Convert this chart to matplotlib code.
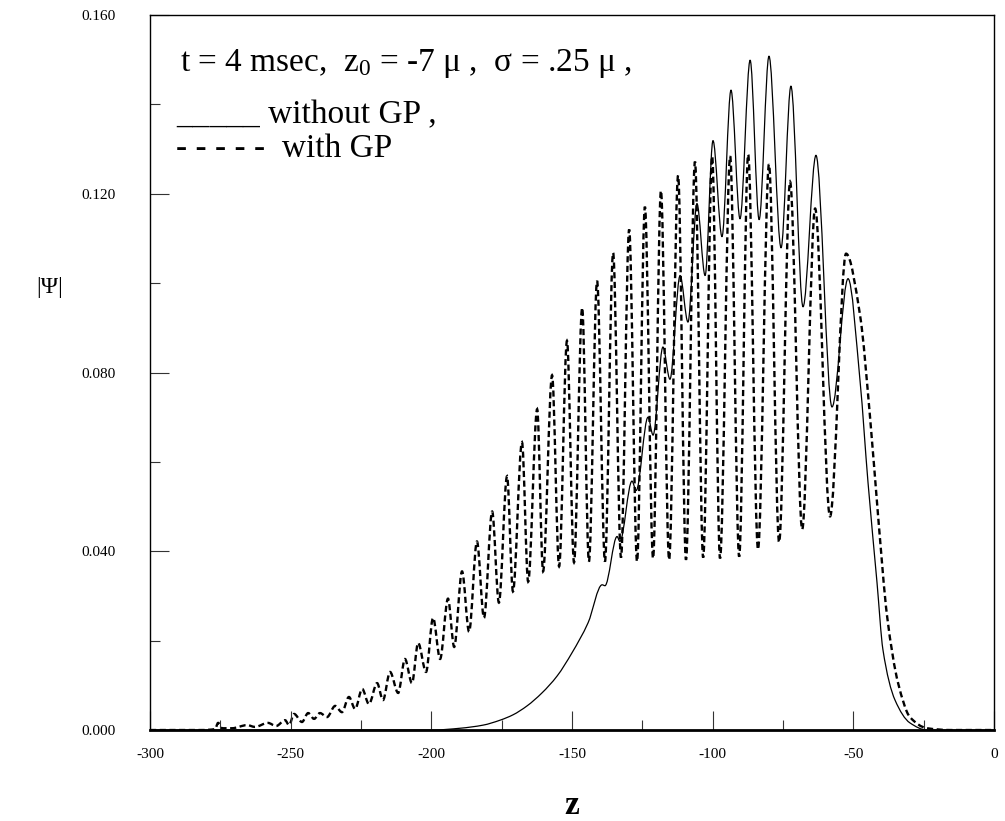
import numpy as np
import matplotlib
matplotlib.use("Agg")
import matplotlib.pyplot as plt
from matplotlib.path import Path
from matplotlib.patches import PathPatch
from matplotlib.ticker import MultipleLocator, FuncFormatter

plt.rcParams['font.family'] = ['Liberation Serif', 'DejaVu Serif']
plt.rcParams['mathtext.fontset'] = 'custom'
plt.rcParams['mathtext.rm'] = 'Liberation Serif'
plt.rcParams['mathtext.default'] = 'regular'
plt.rcParams['axes.unicode_minus'] = False

# key points (peaks, troughs, shoulders)
# dashed curve: with GP
z_gp = [-300, -282.2, -276.9, -275.8, -274.4, -270.9, -265.5, -262.7, -258.1, -255.2,
        -252.0, -250.6, -248.8, -246.0, -243.8, -241.7, -239.6, -237.1, -234.2, -231.8,
        -229.3, -227.1, -224.6, -222.2, -219.3, -217.2, -214.7, -211.8, -209.4, -206.9,
        -204.7, -201.9, -199.4, -196.9, -194.1, -191.9, -189.1, -186.6, -183.8, -181.3,
        -178.4, -176.0, -173.1, -171.0, -167.8, -165.6, -162.4, -160.3, -157.1, -154.6,
        -151.8, -149.3, -146.4, -144.0, -141.1, -138.3, -135.4, -132.6, -129.7, -126.9,
        -124.1, -121.2, -118.4, -115.5, -112.3, -109.5, -106.3, -103.4, -100.2, -97.4,
        -93.8, -90.6, -87.4, -83.9, -80.0, -76.4, -72.5, -68.2, -63.6, -58.3,
        -52.6, -47.6, -44.1, -41.2, -38.0, -34.1, -29.9, -23.8, -15.6, 0]
psi_gp = [0.0, 0.0, 0.0002, 0.0016, 0.0004, 0.0004, 0.0011, 0.0007, 0.0016, 0.0009,
          0.0022, 0.0011, 0.0036, 0.0018, 0.0038, 0.0025, 0.0038, 0.0029, 0.0054, 0.0040,
          0.0074, 0.0047, 0.0092, 0.0058, 0.0105, 0.0067, 0.0130, 0.0083, 0.0159, 0.0105,
          0.0195, 0.0130, 0.0251, 0.0159, 0.0294, 0.0186, 0.0355, 0.0220, 0.0422, 0.0251,
          0.0489, 0.0285, 0.0568, 0.0310, 0.0644, 0.0332, 0.0718, 0.0355, 0.0794, 0.0366,
          0.0871, 0.0375, 0.0945, 0.0377, 0.1005, 0.0377, 0.1068, 0.0386, 0.1120, 0.0377,
          0.1171, 0.0384, 0.1207, 0.0381, 0.1241, 0.0381, 0.1272, 0.0386, 0.1284, 0.0384,
          0.1284, 0.0388, 0.1288, 0.0404, 0.1266, 0.0420, 0.1227, 0.0449, 0.1167, 0.0478,
          0.1066, 0.0927, 0.0702, 0.0478, 0.0254, 0.0105, 0.0029, 0.0004, 0.0, 0.0]

# solid curve: without GP
z_nogp = [-300, -211.1, -199.4, -189.8, -181.6, -175.6, -171.0, -166.0, -160.7, -155.3,
          -150.0, -144.3, -139.3, -138.3, -134.0, -133.0, -128.7, -127.2, -123.0, -121.2,
          -117.7, -115.2, -111.6, -108.8, -105.6, -102.7, -99.9, -96.7, -93.5, -90.3,
          -86.7, -83.5, -80.0, -75.7, -72.2, -67.9, -63.3, -57.6, -51.9, -47.6,
          -44.8, -41.6, -39.5, -35.2, -29.9, -23.8, 0]
psi_nogp = [0.0, 0.0, 0.0, 0.0004, 0.0011, 0.0022, 0.0034, 0.0054, 0.0083, 0.0121,
            0.0173, 0.0240, 0.0325, 0.0323, 0.0433, 0.0422, 0.0557, 0.0536, 0.0700, 0.0660,
            0.0857, 0.0785, 0.1017, 0.0913, 0.1178, 0.1017, 0.1319, 0.1104, 0.1432, 0.1144,
            0.1499, 0.1142, 0.1508, 0.1079, 0.1441, 0.0947, 0.1286, 0.0723, 0.1010, 0.0779,
            0.0554, 0.0330, 0.0180, 0.0067, 0.0016, 0.0, 0.0]


def smooth_path(xs, ys):
    # monotone cubic through the read points, handed to matplotlib as bezier segments
    x = np.asarray(xs, float)
    y = np.asarray(ys, float)
    h = np.diff(x)
    d = np.diff(y) / h
    m = np.zeros(len(x))
    m[0], m[-1] = d[0], d[-1]
    for k in range(1, len(x) - 1):
        if d[k - 1] * d[k] > 0:
            w1 = 2 * h[k] + h[k - 1]
            w2 = h[k] + 2 * h[k - 1]
            m[k] = (w1 + w2) / (w1 / d[k - 1] + w2 / d[k])
    verts = [(x[0], y[0])]
    codes = [Path.MOVETO]
    for k in range(len(h)):
        verts += [(x[k] + h[k] / 3, y[k] + m[k] * h[k] / 3),
                  (x[k + 1] - h[k] / 3, y[k + 1] - m[k + 1] * h[k] / 3),
                  (x[k + 1], y[k + 1])]
        codes += [Path.CURVE4] * 3
    return Path(verts, codes)


fig = plt.figure(figsize=(10.05, 8.21), dpi=100)
ax = fig.add_axes([0.1493, 0.1108, 0.8398, 0.8709])

ax.add_patch(PathPatch(smooth_path(z_nogp, psi_nogp), fill=False, color='black', lw=0.9))
ax.add_patch(PathPatch(smooth_path(z_gp, psi_gp), fill=False, color='black', lw=1.7,
                       linestyle=(0, (2.6, 1.5))))

ax.set_xlim(-300, 0)
ax.set_ylim(0, 0.16)

ax.xaxis.set_major_locator(MultipleLocator(50))
ax.xaxis.set_minor_locator(MultipleLocator(25))
ax.yaxis.set_major_locator(MultipleLocator(0.04))
ax.yaxis.set_minor_locator(MultipleLocator(0.02))
ax.xaxis.set_major_formatter(FuncFormatter(lambda v, p: '%d' % round(v)))
ax.yaxis.set_major_formatter(FuncFormatter(lambda v, p: '%.3f' % v))
ax.tick_params(which='both', direction='in', top=False, right=False, width=0.8,
               color='#333333', labelsize=11)
ax.tick_params(which='major', length=14)
ax.tick_params(which='minor', length=7)
ax.tick_params(axis='y', pad=25)
ax.tick_params(axis='x', pad=13)

for side in ['left', 'top', 'right']:
    ax.spines[side].set_linewidth(1.0)
ax.spines['bottom'].set_linewidth(2.0)

fig.text(50 / 1005, 1 - 287 / 821, '|Ψ|', fontsize=17, ha='center', va='center')
fig.text(572 / 1005, 1 - 805 / 821, 'z', fontsize=24, fontweight='bold', ha='center', va='center')

fig.text(180 / 1005, 1 - 71 / 821, 't = 4 msec,  $z_0$ = -7 μ ,  σ = .25 μ ,',
         fontsize=24, va='baseline')
fig.text(176 / 1005, 1 - 123 / 821, '_____ without GP ,', fontsize=24, va='baseline')
fig.text(176 / 1005, 1 - 157 / 821, '- - - - -  with GP', fontsize=24, va='baseline')

fig.savefig('out.png', dpi=100)
